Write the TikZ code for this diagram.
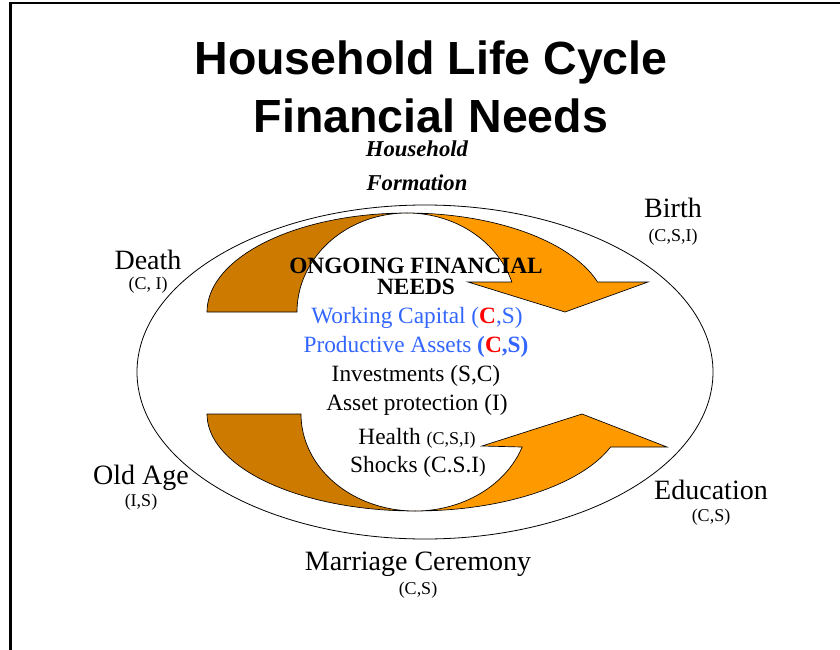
\documentclass[tikz,border=0pt]{standalone}
\usepackage{fontspec}
\setmainfont{Liberation Serif}
\newfontfamily\headfont{Liberation Sans}
\definecolor{ribbonback}{RGB}{204,122,0}
\definecolor{ribbonfront}{RGB}{255,153,0}
\definecolor{needblue}{RGB}{51,102,255}
\definecolor{needred}{RGB}{255,0,0}
\tikzset{
  back/.style={fill=ribbonback, draw=black, line width=0.5pt},
  front/.style={fill=ribbonfront, draw=black, line width=0.5pt},
  txt/.style={anchor=base, inner sep=0pt},
  heading/.style={txt, font=\headfont\bfseries\fontsize{34.9}{40}\selectfont},
  formation/.style={txt, font=\bfseries\itshape\fontsize{17}{20}\selectfont},
  stage/.style={txt, font=\fontsize{21}{24}\selectfont},
  code/.style={txt, font=\fontsize{13.5}{16}\selectfont},
  need/.style={txt, font=\fontsize{17.5}{20}\selectfont},
  needhead/.style={txt, font=\bfseries\fontsize{17.5}{20}\selectfont},
}
\begin{document}
\begin{tikzpicture}[x=0.75pt,y=-0.75pt]
\useasboundingbox (0,0) rectangle (840,650);
% frame
\draw[line width=1.6pt] (10.5,650) -- (10.5,3) -- (840,3);
% outer cycle
\draw[line width=0.6pt] (425,372) ellipse [x radius=288, y radius=167];

% upper ribbon: shaded back, then the front with its arrow head
\path[back] plot[domain=180:270, samples=40] ({407+200*cos(\x)},{312+99*sin(\x)})
  -- plot[domain=270:180, samples=40] ({407+110*cos(\x)},{312+99*sin(\x)}) -- cycle;
\path[front] plot[domain=270:342.4, samples=40] ({407+200*cos(\x)},{312+99*sin(\x)})
  -- (648,282) -- (565,312) -- (468,282)
  -- plot[domain=342.4:270, samples=40] ({407+110*cos(\x)},{312+99*sin(\x)}) -- cycle;

% lower ribbon
\path[back] plot[domain=180:90, samples=40] ({415+208*cos(\x)},{414+97*sin(\x)})
  -- plot[domain=90:180, samples=40] ({415+114*cos(\x)},{414+97*sin(\x)}) -- cycle;
\path[front] plot[domain=90:19.9, samples=40] ({415+208*cos(\x)},{414+97*sin(\x)})
  -- (667,447) -- (582,414) -- (482,446)
  -- plot[domain=19.9:90, samples=40] ({415+114*cos(\x)},{414+97*sin(\x)}) -- cycle;

% title
\node[heading] (title1) at (431,74) {Household Life Cycle};
\node[heading] (title2) at (431,132) {Financial Needs};

% life stages
\node[formation] (formA) at (417,156) {Household};
\node[formation] (formB) at (417,190) {Formation};
\node[stage] (birth) at (673,217) {Birth};
\node[code] (birthc) at (673,241) {(C,S,I)};
\node[stage] (death) at (148,269) {Death};
\node[code] (deathc) at (148,289) {(C, I)};
\node[stage] (old) at (141,484) {Old Age};
\node[code] (oldc) at (141,506) {(I,S)};
\node[stage] (edu) at (711,499) {Education};
\node[code] (educ) at (711,521) {(C,S)};
\node[stage] (marr) at (418,570) {Marriage Ceremony};
\node[code] (marrc) at (418,594) {(C,S)};

% ongoing needs
\node[needhead] (ongo1) at (416,273) {ONGOING FINANCIAL};
\node[needhead] (ongo2) at (416,294) {NEEDS};
\node[need, text=needblue] (wc) at (417,323) {Working Capital (\textbf{\color{needred}C},S)};
\node[need, text=needblue] (pa) at (416,352) {Productive Assets \textbf{(\textcolor{needred}{C},S)}};
\node[need] (inv) at (416,381) {Investments (S,C)};
\node[need] (ap) at (417,410) {Asset protection (I)};
\node[need] (hl) at (417,444) {Health {\fontsize{13.5}{16}\selectfont(C,S,I)}};
\node[need] (sh) at (418,472) {Shocks (C.S.I{\fontsize{15}{16}\selectfont)}};
\end{tikzpicture}
\end{document}
